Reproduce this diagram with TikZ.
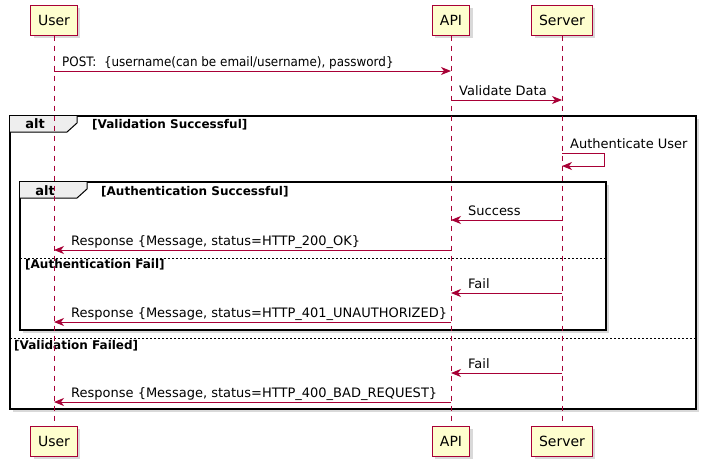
\documentclass[tikz,border=0pt]{standalone}
\usepackage{fontspec}
\usepackage{graphicx}
\setmainfont{DejaVu Sans}
\usetikzlibrary{arrows.meta,shadows}
\definecolor{umlRed}{HTML}{A80036}
\definecolor{umlBox}{HTML}{FEFECE}
\definecolor{umlTab}{HTML}{EEEEEE}
\newcommand{\msgfont}{\fontsize{13}{15}\selectfont}
\newcommand{\guardfont}{\fontsize{12}{14}\selectfont\bfseries}
\tikzset{
  umlshadow/.style={drop shadow={shadow xshift=3pt,shadow yshift=-3pt,opacity=0.3}},
  actor/.style={draw=umlRed, fill=umlBox, line width=1pt, minimum height=30pt,
    inner xsep=7.5pt, font=\fontsize{14}{16}\selectfont, umlshadow},
  lifeline/.style={draw=umlRed, line width=1pt, dash pattern=on 5pt off 5pt},
  msg/.style={draw=umlRed, line width=1pt, -{Stealth[length=10pt,width=8pt,inset=3pt]}},
  lbl/.style={anchor=base west, inner sep=0pt, font=\msgfont},
  frame/.style={draw=black, line width=1.8pt, fill=white, umlshadow},
  sep/.style={draw=black, line width=0.8pt, dash pattern=on 2pt off 2pt},
  altlbl/.style={anchor=base, inner sep=0pt, font=\fontsize{13}{15}\selectfont\bfseries},
  guard/.style={anchor=base west, inner sep=0pt, font=\guardfont}
}
\begin{document}
\begin{tikzpicture}[x=1pt,y=-1pt]
\useasboundingbox (0,0) rectangle (709,469);

% alt frames
\draw[frame] (10,116) rectangle (696,409);
\fill[umlTab] (10,116) -- (77,116) -- (77,123) -- (67,132) -- (10,132) -- cycle;
\draw[line width=1pt] (77,116) -- (77,123) -- (67,132) -- (10,132);
\node[altlbl] (alt1) at (35,128) {alt};
\node[guard] (g1) at (92,128) {[Validation Successful]};

\draw[frame] (20,182) rectangle (606,330);
\fill[umlTab] (20,182) -- (87,182) -- (87,189) -- (77,198) -- (20,198) -- cycle;
\draw[line width=1pt] (87,182) -- (87,189) -- (77,198) -- (20,198);
\node[altlbl] (alt2) at (45,195) {alt};
\node[guard] (g2) at (101,195) {[Authentication Successful]};

% else separators
\draw[sep] (20,258) -- (606,258);
\node[guard] (g3) at (25,268) {[Authentication Fail]};
\draw[sep] (10,338) -- (696,338);
\node[guard] (g4) at (14,349) {[Validation Failed]};

% participants
\foreach \name/\x/\txt in {user/54/User, api/451/API, srv/562/Server}{
  \node[actor] (\name Top) at (\x,20) {\txt};
  \node[actor] (\name Bot) at (\x,441) {\txt};
  \draw[lifeline] (\name Top.south) -- (\name Bot.north);
}

% message rows
\foreach \n/\y in {post/71,valid/100,auth/153,authB/166,ok/220,r200/250,
                   fail/293,r401/322,vfail/373,r400/402}
  \coordinate (\n) at (0,\y);

\draw[msg] (userTop |- post) -- (apiTop |- post);
\node[lbl] (postL) at ([shift={(8pt,5pt)}]userTop |- post) {\scalebox{0.92}[1]{POST:\ \ \{username(can be email/username), password\}}};

\draw[msg] (apiTop |- valid) -- (srvTop |- valid);
\node[lbl] (validL) at ([shift={(8pt,5pt)}]apiTop |- valid) {Validate Data};

\draw[msg] (srvTop |- auth) -- ++(42,0) -- ++(0,13) -- (srvTop |- authB);
\node[lbl] (authL) at ([shift={(8pt,5pt)}]srvTop |- auth) {Authenticate User};

\draw[msg] (srvTop |- ok) -- (apiTop |- ok);
\node[lbl] (okL) at ([shift={(17pt,5pt)}]apiTop |- ok) {Success};

\draw[msg] (apiTop |- r200) -- (userTop |- r200);
\node[lbl] (r200L) at ([shift={(17pt,5pt)}]userTop |- r200) {Response \{Message, status=HTTP\_200\_OK\}};

\draw[msg] (srvTop |- fail) -- (apiTop |- fail);
\node[lbl] (failL) at ([shift={(17pt,5pt)}]apiTop |- fail) {Fail};

\draw[msg] (apiTop |- r401) -- (userTop |- r401);
\node[lbl] (r401L) at ([shift={(17pt,5pt)}]userTop |- r401) {Response \{Message, status=HTTP\_401\_UNAUTHORIZED\}};

\draw[msg] (srvTop |- vfail) -- (apiTop |- vfail);
\node[lbl] (vfailL) at ([shift={(17pt,5pt)}]apiTop |- vfail) {Fail};

\draw[msg] (apiTop |- r400) -- (userTop |- r400);
\node[lbl] (r400L) at ([shift={(17pt,5pt)}]userTop |- r400) {Response \{Message, status=HTTP\_400\_BAD\_REQUEST\}};
\end{tikzpicture}
\end{document}
